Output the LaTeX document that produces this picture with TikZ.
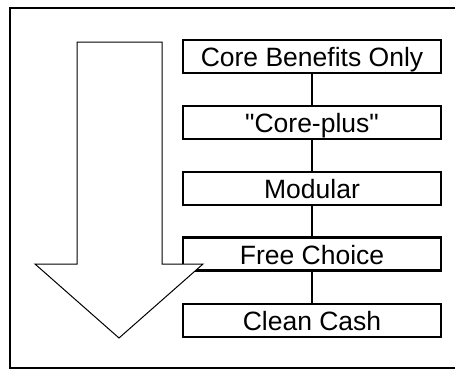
\documentclass[tikz,border=0pt]{standalone}
\usepackage{fontspec}
\setmainfont{Liberation Sans}[Ligatures=TeXOff]

\tikzstyle{plan}=[draw,line width=2.5pt,fill=white,minimum width=258pt,minimum height=33pt,inner sep=0pt,
  font=\fontsize{26.5}{28}\selectfont,text height=22pt,text depth=2pt]
\tikzstyle{link} = [draw,line width=2.5pt,-]
\tikzstyle{bigarrow} = [draw,line width=1pt,fill=white,line join=miter]

\begin{document}
\begin{tikzpicture}[x=1pt,y=-1pt]
		\useasboundingbox (0,0) rectangle (455,370);
		% outer frame, open on the right
		\draw[line width=2.5pt] (456,8) -- (10,8) -- (10,368) -- (456,368);
		\node[plan] (core) at (312,56.5) {Core Benefits Only};
		\node[plan] (plus) at (312,122.5) {"Core-plus"};
		\node[plan] (modular) at (312,188.5) {Modular};
		\node[plan] (free) at (312,254) {Free Choice};
		\node[plan] (cash) at (312,320.5) {Clean Cash};
   		 % Connect the plans top to bottom
   		\foreach \source/ \dest in {core/plus, plus/modular, modular/free, free/cash}
        		\path[link] (\source) -- (\dest);
		% big arrow on top of the boxes
		\path[bigarrow] (77,42) -- (162,42) -- (162,264) -- (203,264) -- (119,338) -- (35,264) -- (77,264) -- cycle;
\end{tikzpicture}
\end{document}
